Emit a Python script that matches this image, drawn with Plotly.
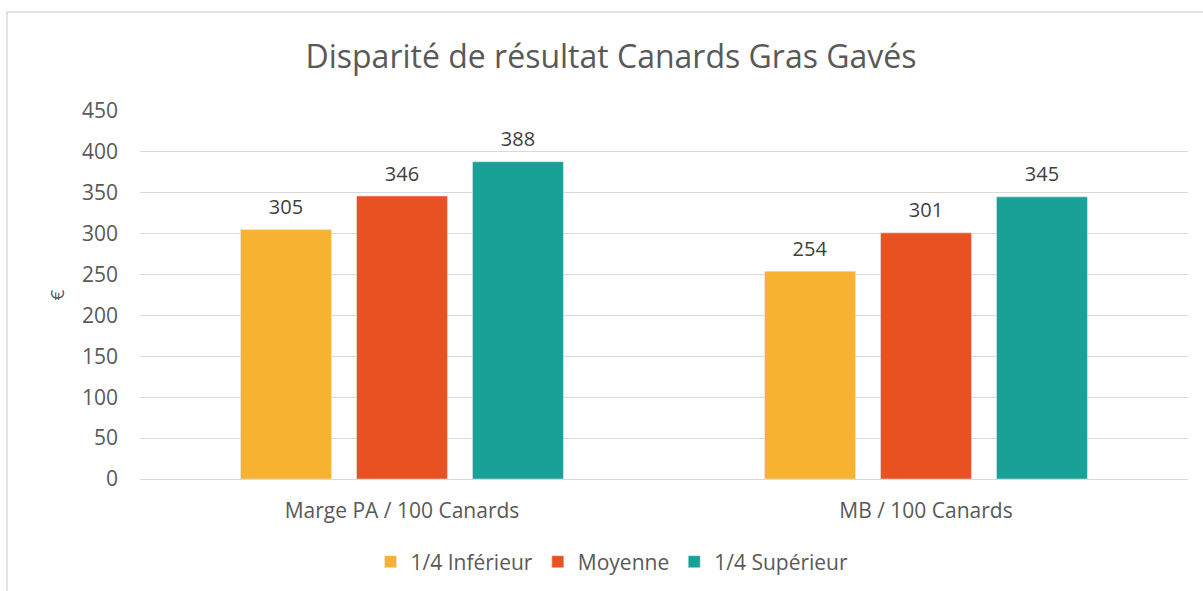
import plotly.graph_objects as go

categories = ["Marge PA / 100 Canards", "MB / 100 Canards"]
series_names = ["1/4 Inférieur", "Moyenne", "1/4 Supérieur"]
inferieur = [305, 254]
moyenne = [346, 301]
superieur = [388, 345]
colors = ["#F7B232", "#E85222", "#1AA197"]
tick_vals = [0, 50, 100, 150, 200, 250, 300, 350, 400, 450]

W, H = 1203, 591
L, R, T, B = 140, 15, 111, 112
pw, ph = W - L - R, H - T - B

fig = go.Figure()
for name, vals, col in zip(series_names, [inferieur, moyenne, superieur], colors):
    fig.add_trace(go.Bar(
        x=categories, y=vals, name=name, marker_color=col,
        text=["<span style='font-size:20px'>%d</span><br>\u00a0" % v for v in vals],
        textposition="outside",
        textfont=dict(size=8, color="#404040"), cliponaxis=False,
    ))

def px(x):
    return (x - L) / pw

def py(y):
    return (H - B - y) / ph

fig.update_layout(
    width=W, height=H,
    margin=dict(l=L, r=R, t=T, b=B, autoexpand=False),
    paper_bgcolor="white", plot_bgcolor="white",
    font=dict(family="Open Sans, Liberation Sans, sans-serif", color="#595959"),
    title=dict(text="Disparité de résultat Canards Gras Gavés", x=611 / W, xanchor="center",
               y=1 - 57 / H, yanchor="middle", font=dict(size=32, color="#595959")),
    barmode="group", bargap=0.336, bargroupgap=0.216,
    showlegend=True,
    legend=dict(orientation="h", x=px(612), xanchor="center", y=py(562), yanchor="middle",
                font=dict(size=21, color="#595959"), traceorder="normal",
                itemwidth=30),
    xaxis=dict(showgrid=False, showline=True, linecolor="#D9D9D9", linewidth=1,
               tickfont=dict(size=21, color="#595959"), ticks="", ticklabelstandoff=13,
               automargin=False),
    yaxis=dict(range=[0, 450], tickvals=tick_vals, showgrid=True, gridcolor="#D9D9D9",
               gridwidth=1, zeroline=False, showline=False, automargin=False,
               tickfont=dict(size=21, color="#595959"), ticks="", ticklabelstandoff=21,
               title=dict(text="€", font=dict(size=19, color="#595959"), standoff=12)),
    shapes=[dict(type="rect", xref="paper", yref="paper",
                 x0=px(7), x1=px(1215), y0=py(600), y1=py(12),
                 line=dict(color="#D9D9D9", width=1.5), layer="below")],
)

fig.write_html("out.html", config={"displayModeBar": False},
               post_script="document.body.style.margin='0';document.body.style.overflow='hidden';")
